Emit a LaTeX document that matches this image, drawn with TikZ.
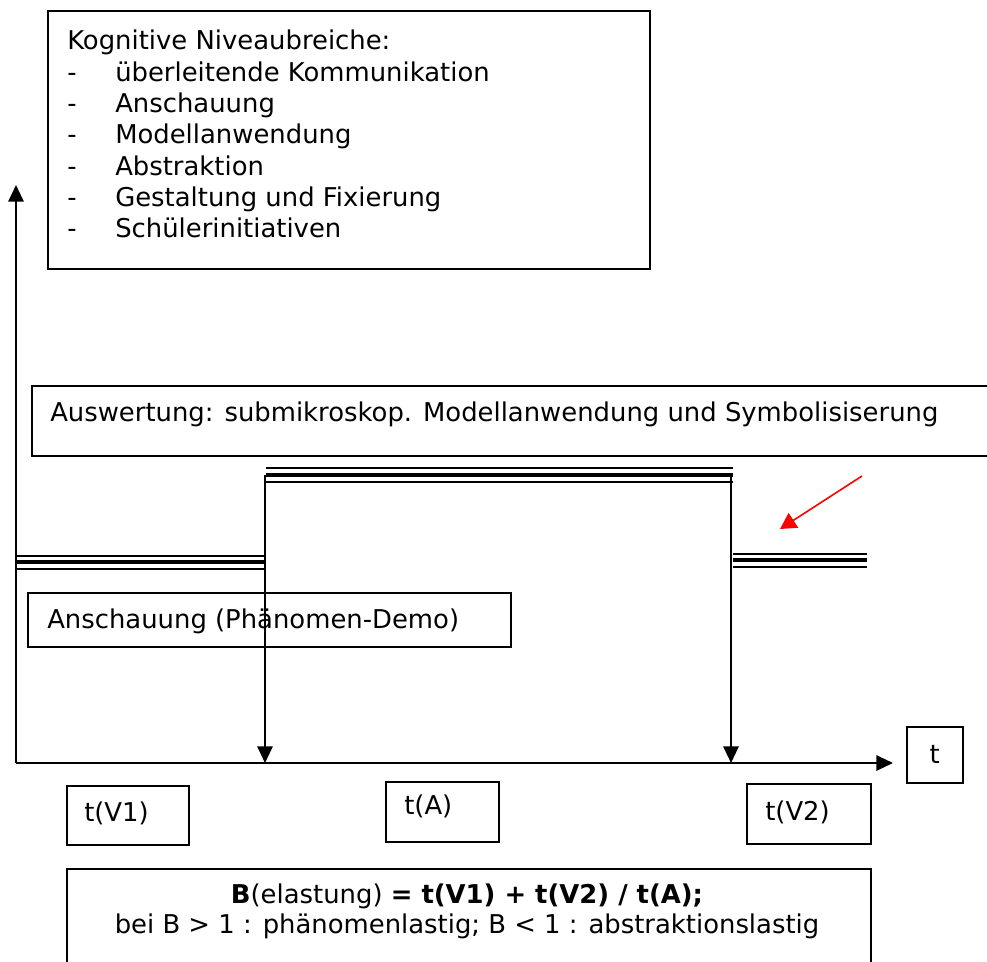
\documentclass[tikz,border=0pt]{standalone}
\usepackage{fontspec}
\setmainfont{DejaVu Sans}
\usetikzlibrary{arrows.meta}
\tikzset{
  box/.style={draw, line width=1.2pt, inner sep=0pt},
  txt/.style={inner sep=0pt, font=\fontsize{19.4}{23.5}\selectfont},
  axisline/.style={line width=1.5pt, -{Triangle[length=12.5pt,width=11.5pt]}},
  thinrule/.style={line width=1.6pt},
  thickrule/.style={line width=3pt},
  redarrow/.style={red, line width=1.2pt, -{Triangle[length=12pt,width=13pt]}}
}
\newcommand{\dashitem}[1]{\makebox[36pt][l]{-}#1}
\begin{document}
\begin{tikzpicture}[x=0.75pt,y=-0.75pt]
\useasboundingbox (0,0) rectangle (987,962);

% top box
\node[box, anchor=north west, minimum width=451.5pt, minimum height=193.5pt] (kog) at (47,10) {};
\node[txt, anchor=north west, align=left] (kogtxt) at (67,30) {Kognitive Niveaubreiche:\\
\dashitem{überleitende Kommunikation}\\
\dashitem{Anschauung}\\
\dashitem{Modellanwendung}\\
\dashitem{Abstraktion}\\
\dashitem{Gestaltung und Fixierung}\\
\dashitem{Schülerinitiativen}};

% axes
\coordinate (origin) at (16,763);
\coordinate (ytip) at (16,185);
\coordinate (xtip) at (893,763);
\draw[axisline] (origin) -- (ytip);
\draw[axisline] (origin) -- (xtip);

% Auswertung box
\node[box, anchor=north west, minimum width=723pt, minimum height=52.5pt] (ausw) at (31,385) {};
\node[txt, anchor=base west] (auswtxt) at (50,421) {Auswertung: submikroskop. Modellanwendung und Symbolisiserung};

% Anschauung box
\node[box, anchor=north west, minimum width=362.25pt, minimum height=40.5pt] (ansch) at (27,592) {};
\node[txt, anchor=base west] (anschtxt) at (47,628) {Anschauung (Phänomen-Demo)};

% triple rules
\coordinate (l1a) at (16,556); \coordinate (l1b) at (265,556);
\coordinate (l2a) at (16,562); \coordinate (l2b) at (265,562);
\coordinate (l3a) at (16,569); \coordinate (l3b) at (265,569);
\draw[thinrule] (l1a) -- (l1b);
\draw[thickrule] (l2a) -- (l2b);
\draw[thinrule] (l3a) -- (l3b);

\coordinate (m1a) at (266,468); \coordinate (m1b) at (733,468);
\coordinate (m2a) at (266,475); \coordinate (m2b) at (733,475);
\coordinate (m3a) at (266,482); \coordinate (m3b) at (733,482);
\draw[thinrule] (m1a) -- (m1b);
\draw[thickrule] (m2a) -- (m2b);
\draw[thinrule] (m3a) -- (m3b);

\coordinate (r1a) at (733,554); \coordinate (r1b) at (867,554);
\coordinate (r2a) at (733,560); \coordinate (r2b) at (867,560);
\coordinate (r3a) at (733,567); \coordinate (r3b) at (867,567);
\draw[thinrule] (r1a) -- (r1b);
\draw[thickrule] (r2a) -- (r2b);
\draw[thinrule] (r3a) -- (r3b);

% down arrows
\coordinate (dl1) at (265,475); \coordinate (dl2) at (265,763);
\coordinate (dr1) at (731,475); \coordinate (dr2) at (731,763);
\draw[axisline] (dl1) -- (dl2);
\draw[axisline] (dr1) -- (dr2);

% red arrow
\coordinate (ra) at (862,476); \coordinate (rb) at (780,529);
\draw[redarrow] (ra) -- (rb);

% t box
\node[box, anchor=north west, minimum width=42pt, minimum height=42pt] (tbox) at (906,726) {};
\node[txt] (ttxt) at (tbox.center) {t};

% time boxes
\node[box, anchor=north west, minimum width=91.5pt, minimum height=44.25pt] (tv1) at (66,785) {};
\node[txt, anchor=base west] (tv1txt) at (84,821) {t(V1)};
\node[box, anchor=north west, minimum width=84.75pt, minimum height=45pt] (ta) at (385,781) {};
\node[txt, anchor=base west] (tatxt) at (404,814) {t(A)};
\node[box, anchor=north west, minimum width=93pt, minimum height=45pt] (tv2) at (746,783) {};
\node[txt, anchor=base west] (tv2txt) at (765,820) {t(V2)};

% formula box
\node[box, anchor=north west, minimum width=603pt, minimum height=90pt] (form) at (66,868) {};
\node[txt, align=center, anchor=north, font=\fontsize{19.4}{22.5}\selectfont] (formtxt) at (467,884) {\textbf{B}(elastung) \textbf{= t(V1) + t(V2) / t(A);}\\
bei B > 1 : phänomenlastig; B < 1 : abstraktionslastig};
\end{tikzpicture}
\end{document}
